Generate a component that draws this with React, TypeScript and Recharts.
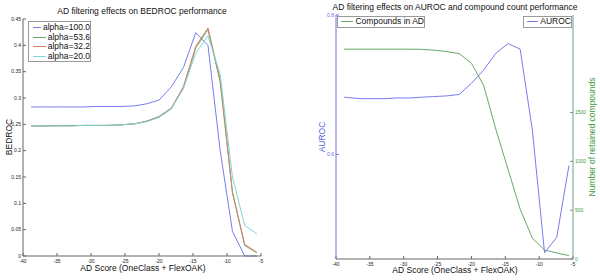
import React from 'react';
import { LineChart, Line, XAxis, YAxis, Legend } from 'recharts';

const adScore = [-38.8, -36.4, -34.6, -32.8, -31.0, -29.2, -27.4, -25.6, -23.6, -21.8, -20.0, -18.2, -16.4, -14.6, -12.8, -11.0, -9.2, -7.4, -5.6];

const bedroc100 = [0.283, 0.283, 0.283, 0.283, 0.283, 0.284, 0.284, 0.284, 0.285, 0.289, 0.296, 0.321, 0.358, 0.424, 0.4, 0.2, 0.047, 0.0, 0.0];
const bedroc536 = [0.247, 0.247, 0.248, 0.248, 0.248, 0.248, 0.248, 0.249, 0.251, 0.256, 0.265, 0.281, 0.32, 0.395, 0.43, 0.33, 0.12, 0.02, 0.006];
const bedroc322 = [0.246, 0.247, 0.247, 0.247, 0.248, 0.248, 0.248, 0.249, 0.251, 0.256, 0.264, 0.28, 0.322, 0.398, 0.433, 0.335, 0.122, 0.022, 0.007];
const bedroc200 = [0.246, 0.247, 0.247, 0.247, 0.248, 0.248, 0.248, 0.249, 0.251, 0.255, 0.263, 0.279, 0.318, 0.385, 0.418, 0.345, 0.15, 0.058, 0.042];

const auroc = [0.682, 0.68, 0.68, 0.68, 0.681, 0.681, 0.682, 0.683, 0.684, 0.686, 0.702, 0.721, 0.745, 0.759, 0.751, 0.635, 0.459, 0.481, 0.584];
const compounds = [2150, 2150, 2150, 2150, 2150, 2150, 2148, 2140, 2125, 2104, 2006, 1780, 1330, 920, 510, 214, 92, 62, 35];

const xTicks = [-40, -35, -30, -25, -20, -15, -10, -5];
const bedrocTicks = [0, 0.05, 0.1, 0.15, 0.2, 0.25, 0.3, 0.35, 0.4, 0.45];
const aurocTicks = [0.6, 0.8];
const countTicks = [0, 500, 1000, 1500];

const bedrocSeries = [
  { key: 'a100', name: 'alpha=100.0', values: bedroc100, color: '#7a7aee' },
  { key: 'a536', name: 'alpha=53.6', values: bedroc536, color: '#6aa86a' },
  { key: 'a322', name: 'alpha=32.2', values: bedroc322, color: '#d8806a' },
  { key: 'a200', name: 'alpha=20.0', values: bedroc200, color: '#7ad8d8' },
];

const leftData = adScore.map((x, i) => {
  const row: Record<string, number> = { x };
  bedrocSeries.forEach((s) => (row[s.key] = s.values[i]));
  return row;
});

const rightData = adScore.map((x, i) => ({ x, auroc: auroc[i], compounds: compounds[i] }));

const FONT = '"Liberation Sans", Arial, sans-serif';
const tick = { fontSize: 5, fill: '#222', fontFamily: FONT };
const blank = () => '';

const boxStyle: React.CSSProperties = {
  border: '1px solid #999',
  background: '#fff',
  fontFamily: FONT,
  fontSize: 8.5,
  color: '#111',
  boxSizing: 'border-box',
  whiteSpace: 'nowrap',
};

const Item = ({ color, label }: { color: string; label: string }) => (
  <div style={{ display: 'flex', alignItems: 'center', height: 9.5, lineHeight: '9.5px' }}>
    <span style={{ display: 'inline-block', width: 14, height: 0, borderTop: `1px solid ${color}`, marginRight: 2 }} />
    <span>{label}</span>
  </div>
);

const Text = ({ left, top, children, color = '#111', size = 8.5, rotate = false }: any) => (
  <div
    style={{
      position: 'absolute',
      left,
      top,
      fontFamily: FONT,
      fontSize: size,
      color,
      whiteSpace: 'nowrap',
      transform: rotate ? 'translate(-50%, -50%) rotate(-90deg)' : 'translate(-50%, -50%)',
    }}
  >
    {children}
  </div>
);

const App = () => {
  return (
    <div style={{ position: 'absolute', left: 0, top: 0, width: 600, height: 280, background: '#fff' }}>
      <div style={{ position: 'absolute', left: 0, top: 0 }}>
        <LineChart width={300} height={280} data={leftData} margin={{ top: 19, right: 39, bottom: 0, left: 0 }}>
          <XAxis dataKey="x" type="number" domain={[-40, -5]} ticks={xTicks} tick={tick} height={24}
            tickSize={-3} tickMargin={6} stroke="#666" />
          <XAxis xAxisId="t" orientation="top" dataKey="x" type="number" domain={[-40, -5]} ticks={xTicks}
            tickFormatter={blank} height={0} tickSize={-3} tickMargin={0} stroke="#666" />
          <YAxis type="number" domain={[0, 0.45]} ticks={bedrocTicks} tick={tick} width={23}
            tickSize={-3} tickMargin={5} stroke="#666" />
          <YAxis yAxisId="r" orientation="right" type="number" domain={[0, 0.45]} ticks={bedrocTicks}
            tickFormatter={blank} width={0} tickSize={-3} tickMargin={0} stroke="#666" />
          <Legend
            layout="horizontal"
            verticalAlign="middle"
            align="center"
            wrapperStyle={{ left: 28, top: 21, width: 63 }}
            content={() => (
              <div style={{ ...boxStyle, width: 63, height: 41, padding: '1px 0 0 4px' }}>
                {bedrocSeries.map((s) => (
                  <Item key={s.key} color={s.color} label={s.name} />
                ))}
              </div>
            )}
          />
          {bedrocSeries.map((s) => (
            <Line key={s.key} dataKey={s.key} name={s.name} stroke={s.color} strokeWidth={1}
              dot={false} isAnimationActive={false} type="linear" />
          ))}
        </LineChart>
      </div>

      <div style={{ position: 'absolute', left: 300, top: 0 }}>
        <LineChart width={300} height={280} data={rightData} margin={{ top: 15, right: 0, bottom: 0, left: 0 }}>
          <XAxis dataKey="x" type="number" domain={[-40, -5]} ticks={xTicks} tick={tick} height={21}
            tickSize={-3} tickMargin={6} stroke="#666" />
          <XAxis xAxisId="t" orientation="top" dataKey="x" type="number" domain={[-40, -5]} ticks={xTicks}
            tickFormatter={blank} height={0} tickSize={-3} tickMargin={0} stroke="#999" />
          <YAxis yAxisId="a" type="number" domain={[0.45, 0.8]} ticks={aurocTicks} width={36}
            tick={{ ...tick, fill: '#6a6ae0' }} tickSize={-3} tickMargin={5} stroke="#7272e0" />
          <YAxis yAxisId="c" orientation="right" type="number" domain={[0, 2500]} ticks={countTicks} width={27}
            tick={{ ...tick, fill: '#3f9a3f' }} tickSize={-3} tickMargin={5} stroke="#6f9a90" />
          <Legend
            layout="horizontal"
            verticalAlign="middle"
            align="center"
            wrapperStyle={{ left: 0, top: 0, width: 300 }}
            content={() => (
              <div style={{ position: 'relative', width: 300, height: 30 }}>
                <div style={{ ...boxStyle, position: 'absolute', left: 37, top: 16, width: 88, height: 12, padding: '0 0 0 3px' }}>
                  <Item color="#6aa86a" label="Compounds in AD" />
                </div>
                <div style={{ ...boxStyle, position: 'absolute', left: 223, top: 16, width: 49, height: 12, padding: '0 0 0 3px' }}>
                  <Item color="#7a7aee" label="AUROC" />
                </div>
              </div>
            )}
          />
          <Line yAxisId="c" dataKey="compounds" name="Compounds in AD" stroke="#6aa86a" strokeWidth={1}
            dot={false} isAnimationActive={false} type="linear" />
          <Line yAxisId="a" dataKey="auroc" name="AUROC" stroke="#7a7aee" strokeWidth={1}
            dot={false} isAnimationActive={false} type="linear" />
        </LineChart>
      </div>

      <Text left={142} top={11}>AD filtering effects on BEDROC performance</Text>
      <Text left={143} top={268}>AD Score (OneClass + FlexOAK)</Text>
      <Text left={9} top={137} rotate>BEDROC</Text>

      <Text left={455} top={7}>AD filtering effects on AUROC and compound count performance</Text>
      <Text left={455} top={270}>AD Score (OneClass + FlexOAK)</Text>
      <Text left={322} top={137} rotate color="#5a5ae0">AUROC</Text>
      <Text left={592} top={137} rotate color="#3f9a3f">Number of retained compounds</Text>
    </div>
  );
};

export default App;
